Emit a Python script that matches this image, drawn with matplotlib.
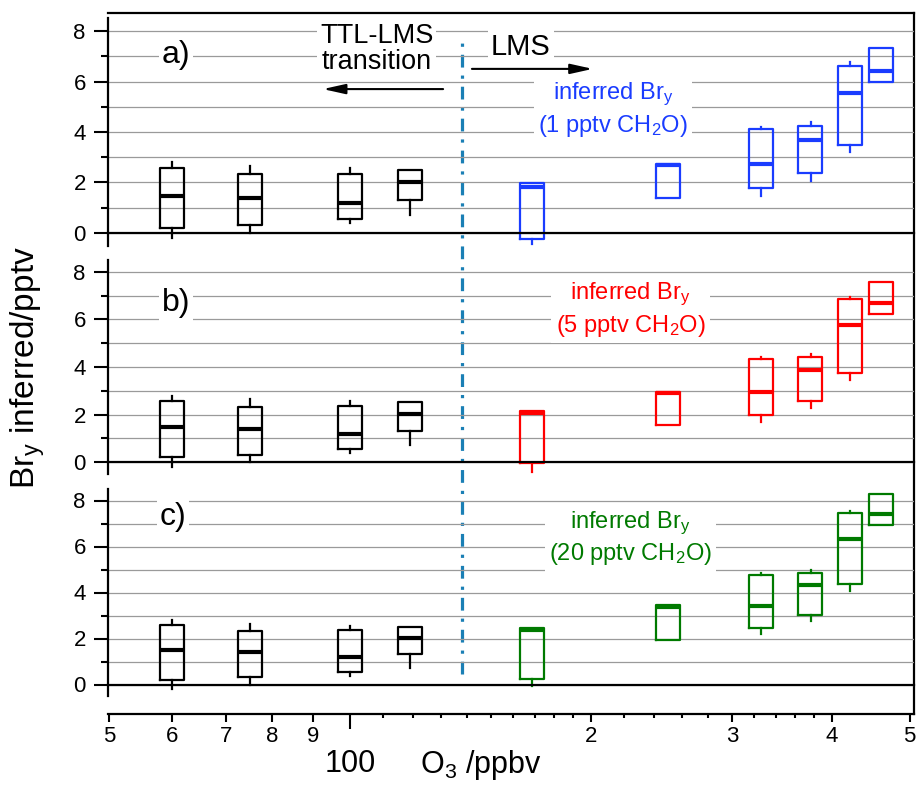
import matplotlib
matplotlib.use('Agg')
import matplotlib.pyplot as plt
from matplotlib.ticker import FixedLocator, NullLocator, NullFormatter

plt.rcParams['font.family'] = ['Liberation Sans', 'DejaVu Sans']
plt.rcParams['mathtext.default'] = 'regular'

# ---------------- data ----------------
# TTL-LMS transition boxes (black), identical in all three panels
ttl_o3 = [60, 75, 100, 119]
ttl_whislo = [-0.21, 0.0, 0.38, 0.71]
ttl_q1 = [0.20, 0.32, 0.55, 1.31]
ttl_med = [1.48, 1.40, 1.18, 2.03]
ttl_q3 = [2.57, 2.32, 2.35, 2.51]
ttl_whishi = [2.80, 2.65, 2.56, 2.51]

# LMS boxes (coloured)
lms_o3 = [169, 250, 326, 376, 421, 461]

# a) 1 pptv CH2O
a_whislo = [-0.45, 1.39, 1.48, 2.07, 3.22, 5.97]
a_q1 = [-0.24, 1.39, 1.79, 2.39, 3.50, 5.97]
a_med = [1.83, 2.68, 2.74, 3.70, 5.56, 6.43]
a_q3 = [1.98, 2.73, 4.13, 4.24, 6.61, 7.33]
a_whishi = [1.98, 2.73, 4.21, 4.38, 6.77, 7.33]

# b) 5 pptv CH2O
b_whislo = [-0.41, 1.57, 1.70, 2.28, 3.45, 6.21]
b_q1 = [-0.05, 1.57, 1.99, 2.57, 3.74, 6.21]
b_med = [2.07, 2.89, 2.96, 3.86, 5.77, 6.70]
b_q3 = [2.16, 2.94, 4.35, 4.43, 6.85, 7.57]
b_whishi = [2.16, 2.94, 4.43, 4.53, 6.95, 7.57]

# c) 20 pptv CH2O
c_whislo = [-0.07, 1.95, 2.18, 2.74, 4.08, 6.94]
c_q1 = [0.26, 1.95, 2.44, 3.04, 4.37, 6.94]
c_med = [2.38, 3.37, 3.42, 4.31, 6.33, 7.42]
c_q3 = [2.45, 3.46, 4.74, 4.83, 7.45, 8.27]
c_whishi = [2.45, 3.46, 4.84, 4.96, 7.56, 8.27]

panel_letters = ['a)', 'b)', 'c)']
panel_ch2o = ['1', '5', '20']
panel_colors = ['#1a3cff', '#ff0000', '#007a00']

x_major = [50, 60, 70, 80, 90, 200, 300, 400, 500]
x_major_labels = ['5', '6', '7', '8', '9', '2', '3', '4', '5']
x_minor = [110, 120, 130, 140, 150, 160, 170, 180, 190,
           220, 240, 260, 280, 320, 340, 360, 380]
transition_o3 = 138

# ---------------- layout ----------------
W, H = 918, 786
fig = plt.figure(figsize=(W / 100, H / 100), dpi=100)

def fx(px):
    return px / W

def fy(py):
    return 1 - py / H

XL, XR = 108, 914
xlim = (49.86, 506.3)

# outer frame with x axis
frame = fig.add_axes([fx(XL), fy(714), fx(XR) - fx(XL), fy(13) - fy(714)])
frame.set_facecolor('none')
frame.set_xscale('log')
frame.set_xlim(*xlim)
frame.set_ylim(0, 1)
frame.spines['left'].set_visible(False)
for s in ['top', 'right', 'bottom']:
    frame.spines[s].set_linewidth(1.6)
frame.yaxis.set_major_locator(NullLocator())
frame.yaxis.set_minor_locator(NullLocator())
frame.xaxis.set_major_locator(FixedLocator(x_major))
frame.set_xticklabels(x_major_labels)
frame.xaxis.set_minor_locator(FixedLocator(x_minor))
frame.xaxis.set_minor_formatter(NullFormatter())
frame.tick_params(axis='x', which='major', length=6, width=1.5, labelsize=16, pad=3)
frame.tick_params(axis='x', which='minor', length=3, width=1.5)

sec = frame.secondary_xaxis('bottom')
sec.set_xticks([100])
sec.set_xticklabels(['100'])
sec.spines['bottom'].set_visible(False)
sec.tick_params(axis='x', which='major', length=11, width=1.5, labelsize=22, pad=14)
sec.xaxis.set_minor_locator(NullLocator())

fig.text(fx(420), fy(765), 'O$_3$ /ppbv', fontsize=22, ha='left', va='center')
fig.text(fx(28), fy(368), 'Br$_y$ inferred/pptv', fontsize=24, rotation=90,
         ha='center', va='center')

# transition line
frame.axvline(transition_o3, ymin=(714 - 674) / 701, ymax=(714 - 40) / 701,
              color='#1a7fb5', lw=2.3, linestyle=(0, (4, 2.5, 1, 2.5)), zorder=5)

panel_px = [(18.4, 245.6), (260, 474), (489, 696)]
lms_data = [
    (a_whislo, a_q1, a_med, a_q3, a_whishi),
    (b_whislo, b_q1, b_med, b_q3, b_whishi),
    (c_whislo, c_q1, c_med, c_q3, c_whishi),
]
letter_pos = [(60.6, 7.05), (60.6, 6.69), (60.1, 7.29)]
label_pos = [(213, 4.87), (224, 6.39), (224, 6.36)]

hw = 0.015  # half width of boxes in decades


def make_stats(lo, q1, med, q3, hi):
    return [dict(whislo=a, q1=b, med=c, q3=d, whishi=e, fliers=[])
            for a, b, c, d, e in zip(lo, q1, med, q3, hi)]


def widths(pos):
    return [p * (10 ** hw - 10 ** (-hw)) for p in pos]


axes = []
for i, (top, bot) in enumerate(panel_px):
    ax = fig.add_axes([fx(XL), fy(bot), fx(XR) - fx(XL), fy(top) - fy(bot)])
    ax.set_facecolor('none')
    ax.set_xscale('log')
    ax.set_xlim(*xlim)
    ax.set_ylim(-0.5, 8.5)
    ax.spines['top'].set_visible(False)
    ax.spines['right'].set_visible(False)
    ax.spines['bottom'].set_position(('data', 0))
    ax.spines['bottom'].set_linewidth(1.6)
    ax.spines['left'].set_linewidth(1.6)
    ax.tick_params(axis='x', which='both', bottom=False, labelbottom=False)
    ax.yaxis.set_major_locator(FixedLocator([0, 2, 4, 6, 8]))
    ax.yaxis.set_minor_locator(FixedLocator([1, 3, 5, 7]))
    ax.tick_params(axis='y', which='major', length=10, width=1.5, labelsize=16, pad=6)
    ax.tick_params(axis='y', which='minor', length=5, width=1.5)
    ax.grid(axis='y', which='both', color='#9a9a9a', lw=0.9)
    ax.set_axisbelow(True)

    ax.bxp(make_stats(ttl_whislo, ttl_q1, ttl_med, ttl_q3, ttl_whishi),
           positions=ttl_o3, widths=widths(ttl_o3), showcaps=False,
           showfliers=False, manage_ticks=False,
           boxprops=dict(color='k', linewidth=1.6),
           whiskerprops=dict(color='k', linewidth=1.6),
           medianprops=dict(color='k', linewidth=3))
    c = panel_colors[i]
    ax.bxp(make_stats(*lms_data[i]),
           positions=lms_o3, widths=widths(lms_o3), showcaps=False,
           showfliers=False, manage_ticks=False,
           boxprops=dict(color=c, linewidth=1.6),
           whiskerprops=dict(color=c, linewidth=1.6),
           medianprops=dict(color=c, linewidth=3))

    lx, ly = letter_pos[i]
    ax.text(lx, ly, panel_letters[i], fontsize=23, ha='center', va='center',
            bbox=dict(facecolor='white', edgecolor='none', pad=2))
    tx, ty = label_pos[i]
    ax.text(tx, ty, 'inferred Br$_y$\n(' + panel_ch2o[i] + ' pptv CH$_2$O)',
            color=c, fontsize=17, ha='center', va='center', linespacing=1.25,
            bbox=dict(facecolor='white', edgecolor='none', pad=3))
    axes.append(ax)

ax_a = axes[0]
ax_a.text(108, 7.29, 'TTL-LMS\ntransition', fontsize=19.5, ha='center', va='center',
          linespacing=1.0, bbox=dict(facecolor='white', edgecolor='none', pad=2))
ax_a.text(163.5, 7.37, 'LMS', fontsize=21, ha='center', va='center',
          bbox=dict(facecolor='white', edgecolor='none', pad=2))
ax_a.annotate('', xy=(92.5, 5.70), xytext=(130.7, 5.70),
              arrowprops=dict(arrowstyle='-|>,head_length=0.9,head_width=0.2',
                              color='k', lw=1.5, mutation_scale=15,
                              shrinkA=0, shrinkB=0))
ax_a.annotate('', xy=(201, 6.50), xytext=(142, 6.50),
              arrowprops=dict(arrowstyle='-|>,head_length=0.9,head_width=0.2',
                              color='k', lw=1.5, mutation_scale=15,
                              shrinkA=0, shrinkB=0))

fig.savefig('out.png', dpi=100)
